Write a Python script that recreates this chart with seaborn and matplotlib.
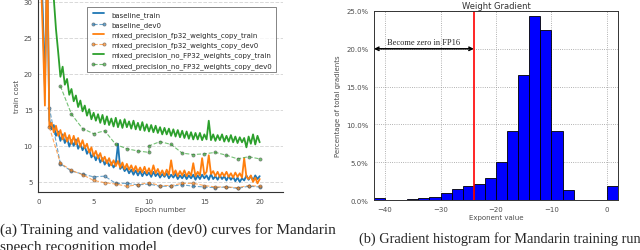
import matplotlib
matplotlib.use("Agg")
import matplotlib.pyplot as plt
import numpy as np
import seaborn as sns
import pandas as pd
from matplotlib.ticker import FuncFormatter

# training curves, sampled every 0.2 epoch
epochs = [round(0.2 * i, 1) for i in range(101)]
baseline_train = [44, 37, 29, 18.2, 36, 13.6, 12.3, 12.9, 11.4, 12.0,
                  10.7, 11.6, 10.4, 11.1, 9.9, 10.8, 10.0, 10.9, 9.6, 10.3,
                  9.4, 10.0, 8.9, 9.5, 8.4, 8.9, 8.0, 8.7, 7.7, 8.3,
                  7.4, 8.0, 7.2, 7.7, 7.0, 7.5, 10.3, 6.8, 7.2, 6.5,
                  6.9, 6.2, 6.7, 6.0, 6.6, 5.9, 6.5, 5.8, 6.4, 5.9,
                  6.3, 5.7, 6.4, 5.8, 6.2, 5.6, 6.1, 5.7, 6.2, 5.5,
                  6.0, 5.6, 6.1, 5.4, 5.9, 5.5, 6.0, 5.4, 5.9, 5.5,
                  6.0, 5.3, 5.9, 5.4, 6.0, 5.5, 5.9, 5.3, 6.1, 5.4,
                  5.8, 5.3, 5.9, 5.4, 5.8, 5.2, 5.8, 5.3, 5.7, 5.1,
                  5.6, 5.0, 5.5, 5.2, 5.9, 5.3, 5.8, 5.2, 5.9, 5.4, 5.8]
mp_fp32_train = [42, 35, 26, 15.6, 38, 12.6, 13.2, 11.9, 12.8, 11.4,
                 12.2, 10.9, 11.8, 10.6, 11.5, 10.3, 11.4, 10.2, 11.1, 9.9,
                 10.8, 9.7, 10.3, 9.1, 9.8, 8.6, 9.3, 8.3, 9.0, 7.9,
                 8.5, 7.6, 8.3, 7.3, 8.0, 7.2, 7.9, 7.0, 7.7, 6.8,
                 7.5, 6.7, 7.3, 6.5, 7.2, 6.4, 7.0, 6.3, 7.1, 6.2,
                 6.9, 6.1, 7.3, 6.2, 6.8, 6.0, 6.6, 5.9, 6.7, 6.0,
                 8.0, 6.0, 6.6, 5.8, 6.5, 5.9, 6.6, 5.8, 6.4, 5.9,
                 7.6, 5.8, 6.4, 5.9, 8.3, 6.0, 6.4, 8.7, 6.1, 6.5,
                 5.8, 6.4, 5.7, 6.3, 5.8, 6.4, 5.7, 6.2, 5.6, 6.3,
                 5.7, 6.2, 5.6, 8.3, 5.7, 5.4, 5.9, 5.0, 5.6, 4.8, 5.4]
mp_nofp32_train = [48, 47, 46, 45, 43, 41, 36, 30.5, 26.2, 23.0,
                   19.6, 21.0, 18.5, 19.3, 17.1, 17.9, 16.2, 17.0, 15.4, 16.3,
                   14.8, 15.6, 14.2, 15.1, 13.7, 14.6, 13.5, 14.4, 13.2, 14.3,
                   13.0, 14.1, 12.9, 13.8, 12.7, 13.9, 12.6, 13.6, 12.5, 13.7,
                   12.6, 13.4, 12.4, 13.5, 12.3, 13.2, 12.2, 13.3, 12.1, 13.0,
                   12.0, 12.9, 11.9, 12.8, 11.8, 12.6, 11.6, 12.5, 11.6, 12.4,
                   11.4, 12.3, 11.3, 12.2, 11.2, 12.1, 11.1, 12.0, 11.0, 11.9,
                   10.9, 11.8, 10.9, 11.8, 10.8, 11.6, 10.9, 13.5, 10.8, 11.6,
                   10.7, 11.5, 10.8, 11.6, 10.6, 11.4, 10.6, 11.5, 10.5, 11.3,
                   10.4, 11.2, 10.5, 11.1, 9.8, 11.3, 10.3, 11.6, 10.2, 11.4, 10.5]

# dev0 evaluations
dev_epochs = list(range(1, 21))
baseline_dev = [15.3, 7.5, 6.5, 6.1, 5.7, 5.8, 4.8, 4.8, 4.6, 4.7,
                4.4, 4.4, 4.6, 4.4, 4.3, 4.2, 4.3, 4.1, 4.4, 4.3]
mp_fp32_dev = [12.6, 7.6, 6.6, 6.0, 5.2, 4.9, 4.7, 4.4, 4.6, 4.9,
               4.5, 4.5, 4.8, 4.8, 4.5, 4.3, 4.3, 4.2, 4.5, 4.4]
nofp32_dev_epochs = [2, 3, 4, 5, 6, 7, 8, 9, 10, 10, 11, 12, 13, 14, 15, 16, 17, 18, 19, 20]
mp_nofp32_dev = [18.3, 14.4, 12.4, 11.7, 12.1, 10.2, 9.6, 9.3, 9.1, 10.0,
                 10.6, 10.2, 9.0, 8.8, 8.9, 9.1, 8.7, 8.2, 8.5, 8.2]

# gradient exponent histogram (bins of width 2)
bin_edges = list(range(-42, 3, 2))
grad_pct = [0.2, 0.05, 0.05, 0.08, 0.2, 0.35, 0.9, 1.4, 1.85, 2.15, 2.9,
            5.05, 9.15, 16.5, 24.4, 22.5, 9.15, 1.3, 0.05, 0.02, 0.02, 1.8]

sns.set_style("white")
plt.rcParams['font.family'] = ['DejaVu Sans']

fig = plt.figure(figsize=(6.4, 2.51), dpi=100)

# ---- left: training curves
ax = fig.add_axes([0.0598, 0.2311, 0.3823, 0.7689])
blue, orange, green = "#1f77b4", "#ff7f0e", "#2ca02c"
train = [("baseline_train", baseline_train, blue),
         ("mixed_precision_fp32_weights_copy_train", mp_fp32_train, orange),
         ("mixed_precision_no_FP32_weights_copy_train", mp_nofp32_train, green)]
dev = [("baseline_dev0", dev_epochs, baseline_dev, blue),
       ("mixed_precision_fp32_weights_copy_dev0", dev_epochs, mp_fp32_dev, orange),
       ("mixed_precision_no_FP32_weights_copy_dev0", nofp32_dev_epochs, mp_nofp32_dev, green)]

for (tl, ty, c), (dl, dx, dy, _) in zip(train, dev):
    sns.lineplot(x=epochs, y=ty, ax=ax, color=c, lw=1.3, estimator=None, sort=False, label=tl)
    sns.lineplot(x=dx, y=dy, ax=ax, color=c, lw=0.8, ls="--", alpha=0.65, marker="o",
                 markersize=2.3, markerfacecolor=c, markeredgecolor="0.3", markeredgewidth=0.5,
                 estimator=None, sort=False, label=dl)

ax.set_xlim(0, 22.1)
ax.set_ylim(3.6, 30.4)
ax.set_xticks([0, 5, 10, 15, 20])
ax.set_yticks([5, 10, 15, 20, 25, 30])
ax.yaxis.grid(True, ls="--", color="0.85", lw=0.7)
for s in ["top", "right"]:
    ax.spines[s].set_visible(False)
for s in ["left", "bottom"]:
    ax.spines[s].set_color("0.2")
    ax.spines[s].set_linewidth(0.8)
ax.tick_params(labelsize=5, colors="0.3", length=2, width=0.5, pad=2)
ax.set_xlabel("Epoch number", fontsize=5, color="0.3", labelpad=2)
ax.set_ylabel("train cost", fontsize=5, color="0.3", labelpad=3)
leg = ax.legend(loc="upper right", bbox_to_anchor=(0.985, 0.975), fontsize=5, numpoints=2,
                frameon=True, handlelength=2.2, borderpad=0.5, labelspacing=0.5, fancybox=False)
leg.get_frame().set_edgecolor("0.3")
leg.get_frame().set_linewidth(0.6)

# ---- right: gradient histogram
ax2 = fig.add_axes([0.5844, 0.1992, 0.3813, 0.7530])
centers = [e + 1 for e in bin_edges[:-1]]
sns.histplot(x=centers, weights=grad_pct, bins=bin_edges, ax=ax2, color="#0000ff",
             edgecolor="black", linewidth=0.6, alpha=1)
ax2.set_xlim(-42, 2)
ax2.set_ylim(0, 25)
ax2.set_xticks([-40, -30, -20, -10, 0])
ax2.set_yticks([0, 5, 10, 15, 20, 25])
ax2.yaxis.set_major_formatter(FuncFormatter(lambda v, p: "%.1f%%" % v))
ax2.grid(True, ls=":", color="0.6", lw=0.6)
ax2.set_axisbelow(True)
for s in ax2.spines.values():
    s.set_color("0.2")
    s.set_linewidth(0.7)
ax2.tick_params(labelsize=5, colors="0.3", length=2, width=0.5, pad=2)
ax2.set_xlabel("Exponent value", fontsize=5, color="0.3", labelpad=2)
ax2.set_ylabel("Percentage of total gradients", fontsize=5, color="0.3", labelpad=4)
ax2.set_title("Weight Gradient", fontsize=6, color="0.2", pad=2)
ax2.axvline(-24, color="red", lw=1.2)
ax2.annotate("", xy=(-42, 20), xytext=(-24, 20),
             arrowprops=dict(arrowstyle="<->", color="black", lw=1.1, shrinkA=0, shrinkB=0,
                             mutation_scale=6))
ax2.text(-33, 20.4, "Become zero in FP16", ha="center", va="bottom", fontsize=6,
         family="Liberation Serif")

# captions
fig.text(0.0, 0.083, "(a) Training and validation (dev0) curves for Mandarin",
         fontsize=11, family="Liberation Serif", va="center", ha="left")
fig.text(0.0, 0.012, "speech recognition model", fontsize=11,
         family="Liberation Serif", va="center", ha="left")
fig.text(0.561, 0.048, "(b) Gradient histogram for Mandarin training run",
         fontsize=10.4, family="Liberation Serif", va="center", ha="left")

fig.savefig("out.png", dpi=100)
